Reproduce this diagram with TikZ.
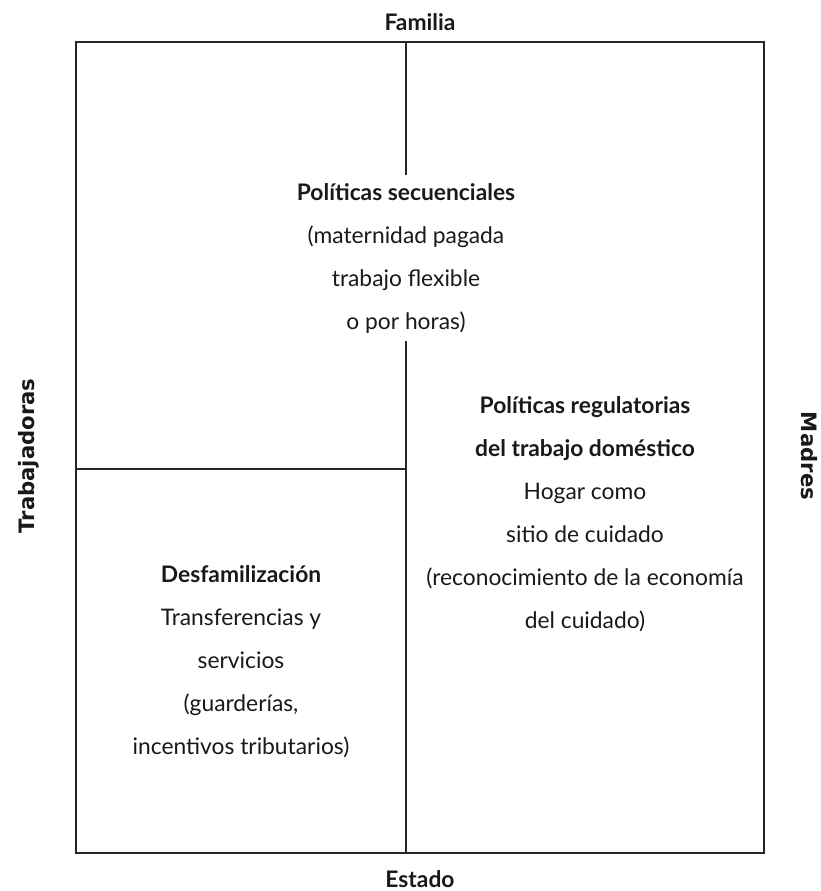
\documentclass[tikz,border=0pt]{standalone}
\usepackage{fontspec}
\setmainfont{Lato}
\newfontfamily\sidefont{DejaVu Sans}
\usetikzlibrary{positioning}
\tikzset{
every picture/.style={
line width=0.75pt
},
frame/.style={draw=black!85},
cell/.style={
  align=center,
  text=black!90,
  inner sep=0pt,
  font=\fontsize{11.4}{21.5}\selectfont
},
axislabel/.style={
  text=black!90,
  inner sep=0pt,
  font=\bfseries\fontsize{11.4}{12}\selectfont
},
sidelabel/.style={
  text=black!90,
  inner sep=0pt,
  font=\sidefont\bfseries\fontsize{10.6}{12}\selectfont
}
}

\begin{document}
\begin{tikzpicture}[x=0.5pt,y=0.5pt]
\useasboundingbox (0,0) rectangle (821,891);

\coordinate (nw) at (76,849);
\coordinate (se) at (764,38);
\coordinate (top) at (406,849);
\coordinate (bot) at (406,38);
\coordinate (left) at (76,422);
\coordinate (mid) at (406,422);
\draw [frame] (nw) rectangle (se);

\node [axislabel] (fam) at (420,869) {Familia};
\node [axislabel] (est) at (420,12) {Estado};
\node [sidelabel, rotate=90] (trab) at (29,435) {Trabajadoras};
\node [sidelabel, rotate=-90] (mad) at (809,435) {Madres};

\node [cell, inner ysep=3.6pt] (sec) at (406,633) {\textbf{Políticas secuenciales}\\(maternidad pagada\\trabajo flexible\\o por horas)};
\node [cell] (reg) at (585,377) {\textbf{Políticas regulatorias}\\\textbf{del trabajo doméstico}\\Hogar como\\sitio de cuidado\\(reconocimiento de la economía\\del cuidado)};
\node [cell] (desf) at (241,229) {\textbf{Desfamilización}\\Transferencias y\\servicios\\(guarderías,\\incentivos tributarios)};

\draw [frame] (top) -- (sec.north);
\draw [frame] (sec.south) -- (bot);
\draw [frame] (left) -- (mid);

\end{tikzpicture}
\end{document}
